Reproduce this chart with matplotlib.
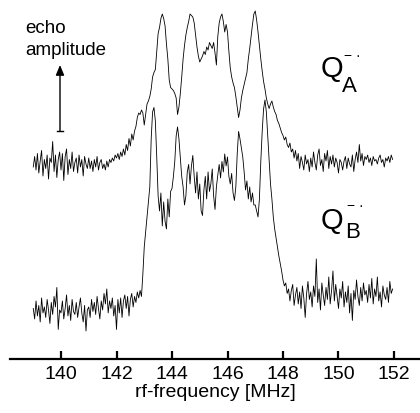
import numpy as np
import matplotlib
matplotlib.use("Agg")
import matplotlib.pyplot as plt

plt.rcParams['font.family'] = ['Liberation Sans', 'DejaVu Sans']

# rf-frequency grid: 139.00 MHz, step 0.05 MHz (one row below = 1 MHz)
f_start = 139.0
f_step = 0.05

# Q_A^-. echo amplitude (arb. units, max peak ~100)
amp_QA = [
    -2, 5, -4, 7, -6, 2, 9, -8, 3, -3, 6, -10, 4, 1, 15, -5, 6, -9, 3, 8,          # 139
    -4, 7, -11, 5, 10, -7, 3, -3, 8, -5, 1, 4, -6, 6, -2, 3, -8, 5, 0, -3,         # 140
    4, -3, 2, -5, 3, -2, 5, -4, 1, 3, -3, 0, -4, 2, -2, 3, 1, 4, 2, 6,             # 141
    4, 7, 3, 8, 5, 10, 6, 13, 9, 17, 12, 20, 16, 22, 25, 31, 34, 33, 36, 34,       # 142
    26, 33, 40, 42, 45, 50, 58, 61, 63, 75, 87, 91, 97, 100, 97, 92, 80, 70, 56, 51,  # 143
    50, 49, 47, 44, 33, 38, 47, 58, 70, 79, 86, 91, 95, 100, 99, 98, 94, 86, 78, 72,  # 144
    68, 70, 72, 75, 73, 78, 76, 81, 79, 77, 81, 74, 66, 85, 94, 98, 100, 95, 88, 93,  # 145
    88, 75, 64, 58, 54, 51, 45, 38, 31, 36, 44, 49, 53, 57, 61, 70, 77, 85, 93, 100,  # 146
    102, 96, 88, 79, 70, 62, 55, 50, 44, 40, 37, 40, 42, 38, 35, 33, 29, 27, 24, 21,  # 147
    19, 16, 18, 13, 11, 14, 8, 10, 4, 9, 2, 7, -3, 5, 1, -4, 6, 0, 3, -5,          # 148
    4, -2, 8, 1, -4, 6, 10, -1, 3, -5, 7, 2, 9, -3, 5, 0, 6, -2, 4, 1,             # 149
    -6, 3, 1, -4, 2, 5, -3, 4, 0, -2, 6, -5, 3, 8, 1, 13, 2, 7, -1, 5,             # 150
    3, 6, 1, 4, -1, 5, 2, 3, 0, 4, 6, 1, 3, -2, 4, 2, 5, 1, 6, 3,                  # 151
]

# Q_B^-. echo amplitude (same units)
amp_QB = [
    -3, -10, 2, -8, -1, -12, 4, -6, -2, -9, 3, -4, -13, 1, -7, 5, -2, 11, -17, -4,     # 139
    -6, 2, -10, -3, 6, -8, -1, -11, 3, -5, -7, 1, -9, -2, 4, -6, -12, -1, -18, -4,     # 140
    -2, -9, 3, -5, 1, -7, 5, -3, -10, 2, -4, 7, 0, 10, -6, 2, -3, 4, -8, -1,           # 141
    -17, 3, -6, 4, -9, 2, 6, -3, 5, -8, 3, 7, -2, 5, 1, 8, 4, 9, 5, 20,               # 142
    38, 48, 58, 68, 78, 110, 128, 131, 122, 98, 72, 62, 74, 52, 68, 55, 50, 70, 58, 75,  # 143
    77, 85, 95, 112, 118, 110, 97, 85, 78, 66, 72, 88, 93, 80, 92, 99, 85, 74, 88, 70,   # 144
    80, 62, 59, 76, 85, 70, 88, 75, 80, 90, 72, 63, 78, 86, 93, 84, 95, 88, 100, 92,     # 145
    98, 85, 80, 87, 74, 69, 78, 100, 115, 110, 104, 98, 88, 76, 82, 70, 78, 68, 74, 66,  # 146
    66, 62, 58, 70, 95, 115, 130, 136, 128, 112, 95, 80, 70, 58, 50, 44, 38, 32, 27, 22,  # 147
    16, 12, 14, 7, 10, 2, 9, 13, -1, 6, 11, 0, 8, -3, 12, 4, -9, 7, 15, 3,             # 148
    8, -2, 12, 5, 30, 1, 10, -4, 14, 6, -1, 11, 3, 18, 0, 9, 22, 2, 13, 5,             # 149
    -3, 10, 4, 15, -2, 8, 1, 12, -6, 7, -11, 9, 3, 16, 5, -1, 11, 2, 14, 6,            # 150
    9, 1, 13, 4, 17, 0, 10, 5, 18, 2, 8, -2, 12, 6, 3, 11, 1, 15, 7, 10,               # 151
]

tick_values = [140, 142, 144, 146, 148, 150, 152]
tick_labels = ['140', '142', '144', '146', '148', '150', '152']

freq_A = f_start + f_step * np.arange(len(amp_QA))
freq_B = f_start + f_step * np.arange(len(amp_QB))

offset_A = 130.0
offset_B = 36.7

W, H = 420, 414
fig = plt.figure(figsize=(W / 100, H / 100), dpi=100)
ax = fig.add_axes([10 / W, 54 / H, 410 / W, 360 / H])
ax.set_xlim(138.162, 152.937)
ax.set_ylim(0, 240)

ax.plot(freq_A, np.array(amp_QA) + offset_A, color='black', lw=0.6)
ax.plot(freq_B, np.array(amp_QB) + offset_B, color='black', lw=0.6)

for s in ['left', 'right', 'top']:
    ax.spines[s].set_visible(False)
ax.spines['bottom'].set_linewidth(1.6)
ax.set_yticks([])
ax.set_xticks(tick_values)
ax.set_xticklabels(tick_labels)
ax.tick_params(axis='x', direction='in', length=6, width=1.6, pad=4.0, labelsize=14)
ax.set_xlabel('rf-frequency [MHz]', fontsize=14, labelpad=1)
ax.patch.set_alpha(0)


def px(x, y):
    return x / W, 1 - y / H


fig.text(*px(25, 33), 'echo', fontsize=13.5, va='baseline', ha='left')
fig.text(*px(25, 55), 'amplitude', fontsize=13.5, va='baseline', ha='left')

ax_arrow = fig.add_axes([0, 0, 1, 1])
ax_arrow.set_xlim(0, W)
ax_arrow.set_ylim(H, 0)
ax_arrow.axis('off')
ax_arrow.annotate('', xy=(60, 66), xytext=(60, 132),
                  arrowprops=dict(arrowstyle='-|>,head_length=0.6,head_width=0.25',
                                  color='black', lw=1.0, shrinkA=0, shrinkB=0))
ax_arrow.plot([57, 63], [132, 132], color='black', lw=1.0)

# Q_A^-. label
fig.text(*px(321, 77), 'Q', fontsize=21, va='baseline', ha='left')
fig.text(*px(342, 92), 'A', fontsize=16, va='baseline', ha='left')
fig.text(*px(344, 60), '\u2212 \u00b7', fontsize=10, va='baseline', ha='left')
# Q_B^-. label
fig.text(*px(321, 229), 'Q', fontsize=21, va='baseline', ha='left')
fig.text(*px(345, 238), 'B', fontsize=16, va='baseline', ha='left')
fig.text(*px(347, 210), '\u2212 \u00b7', fontsize=10, va='baseline', ha='left')

fig.savefig('out.png', dpi=100)
